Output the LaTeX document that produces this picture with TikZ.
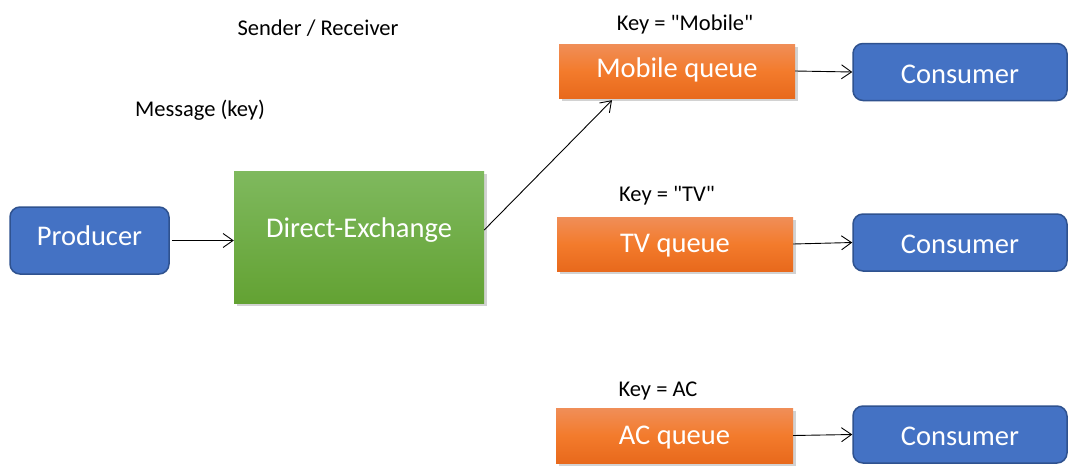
\documentclass[tikz,border=0pt]{standalone}
\usepackage{fontspec}
\setmainfont{Carlito}
\usetikzlibrary{arrows.meta,shadows,calc}
\definecolor{boxblue}{HTML}{4472C4}
\definecolor{blueedge}{HTML}{2F528F}
\definecolor{greentop}{HTML}{7FB95E}
\definecolor{greenbot}{HTML}{63A233}
\definecolor{orangetop}{HTML}{F08E58}
\definecolor{orangemid}{HTML}{F37B2C}
\definecolor{orangebot}{HTML}{E8691C}
\newcommand{\btxt}[2]{\raisebox{#1}[20pt][6pt]{#2}}
\tikzset{
  bigtxt/.style={font=\fontsize{28.5}{30}\selectfont},
  smalltxt/.style={font=\fontsize{22.5}{24}\selectfont, text=black, inner sep=0pt},
  bluebox/.style={draw=blueedge, line width=1.5pt, fill=boxblue, rounded corners=10pt,
    text=white, bigtxt, inner sep=0pt},
  exchbox/.style={top color=greentop, bottom color=greenbot, draw=none, text=white, bigtxt,
    inner sep=0pt, drop shadow={opacity=0.35, shadow xshift=2.5pt, shadow yshift=-3pt}},
  queuebox/.style={top color=orangetop, bottom color=orangebot, middle color=orangemid,
    draw=none, text=white, bigtxt, inner sep=0pt,
    drop shadow={opacity=0.35, shadow xshift=2.5pt, shadow yshift=-3pt}},
  conn/.style={draw=black, line width=0.9pt, -{Straight Barb[length=10pt,width=14pt,line width=0.9pt]}}
}
\begin{document}
\begin{tikzpicture}[x=1pt,y=-1pt]
\useasboundingbox (0,0) rectangle (1074,474);
\fill[white] (0,0) rectangle (1074,474);

\node[smalltxt] (sr) at (318,28) {Sender / Receiver};
\node[smalltxt] (msg) at (200,110) {Message (key)};

\node[bluebox, minimum width=159pt, minimum height=67pt] (prod) at (89.5,240.5) {\btxt{1.8pt}{Producer}};
\node[exchbox, minimum width=250pt, minimum height=132pt] (exch) at (359,237) {\btxt{6.3pt}{Direct-Exchange}};

\node[queuebox, minimum width=236pt, minimum height=54pt] (mob) at (677,71) {\btxt{0.8pt}{Mobile queue}};
\node[queuebox, minimum width=236pt, minimum height=54pt] (tv) at (675,244) {\btxt{-1.2pt}{TV queue}};
\node[queuebox, minimum width=237pt, minimum height=55pt] (ac) at (674.5,435.5) {\btxt{-1.7pt}{AC queue}};

\node[smalltxt] (kmob) at (685,24) {Key = \textquotedbl Mobile\textquotedbl};
\node[smalltxt] (ktv) at (667,196) {Key = \textquotedbl TV\textquotedbl};
\node[smalltxt] (kac) at (658,391) {Key = AC};

\node[bluebox, minimum width=214pt, minimum height=57pt] (c1) at (960,72) {\btxt{-4.2pt}{Consumer}};
\node[bluebox, minimum width=214pt, minimum height=57pt] (c2) at (960,242.5) {\btxt{-4.2pt}{Consumer}};
\node[bluebox, minimum width=214pt, minimum height=57pt] (c3) at (960,434.5) {\btxt{-4.2pt}{Consumer}};

\draw[conn] ([xshift=2pt]prod.east) -- (prod.east -| exch.west);
\draw[conn] ([yshift=7pt]exch.east) -- ([xshift=-65pt,yshift=-2pt]mob.south);
\draw[conn] (mob.east) -- (c1.west);
\draw[conn] (tv.east) -- (c2.west);
\draw[conn] (ac.east) -- (c3.west);
\end{tikzpicture}
\end{document}
